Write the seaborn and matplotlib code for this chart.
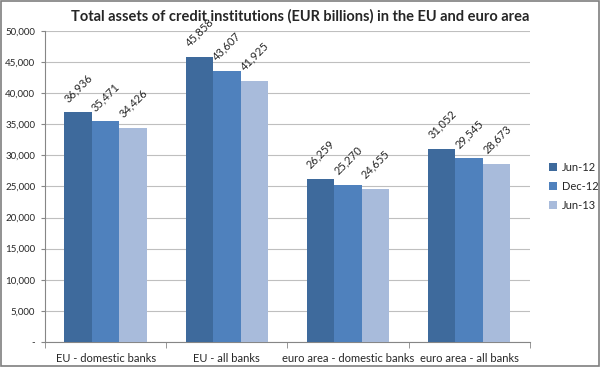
import matplotlib
matplotlib.use("Agg")
import matplotlib.pyplot as plt
import seaborn as sns
import pandas as pd

# Chart data
categories = ["EU - domestic banks", "EU - all banks",
              "euro area - domestic banks", "euro area - all banks"]
periods = ["Jun-12", "Dec-12", "Jun-13"]
jun12 = [36936, 45858, 26259, 31052]
dec12 = [35471, 43607, 25270, 29545]
jun13 = [34426, 41925, 24655, 28673]
yticks = [0, 5000, 10000, 15000, 20000, 25000, 30000, 35000, 40000, 45000, 50000]

PALETTE = ["#3E6A9C", "#4F81BD", "#A8BBDB"]
GRID = "#BFBFBF"


def main():
    df = pd.DataFrame({
        "category": categories * 3,
        "period": [periods[0]] * 4 + [periods[1]] * 4 + [periods[2]] * 4,
        "value": jun12 + dec12 + jun13,
    })

    sns.set_style("white")
    plt.rcParams["font.family"] = ["Lato", "DejaVu Sans"]

    fig = plt.figure(figsize=(6, 3.67), dpi=100)
    ax = fig.add_axes([0.075, 0.068, 0.808, 0.848])

    sns.barplot(data=df, x="category", y="value", hue="period",
                hue_order=periods, order=categories, palette=PALETTE,
                width=0.68, saturation=1, ax=ax, errorbar=None, zorder=3,
                linewidth=0)

    ax.set_ylim(0, 50000)
    ax.set_xlim(-0.5, 3.5)
    ax.set_yticks(yticks)
    ax.set_yticklabels(["-"] + ["{:,}".format(v) for v in yticks[1:]], fontsize=7)
    ax.yaxis.grid(True, color=GRID, linewidth=0.8, zorder=0)
    ax.set_xlabel("")
    ax.set_ylabel("")
    ax.tick_params(axis="x", labelsize=8, length=0, pad=8)
    ax.tick_params(axis="y", length=3, color="#868686", left=True, pad=4)

    # small tick marks at group boundaries
    ax.set_xticks([-0.5, 0.5, 1.5, 2.5, 3.5], minor=True)
    ax.tick_params(axis="x", which="minor", length=4, color="#868686", bottom=True)

    for side in ["top", "right"]:
        ax.spines[side].set_visible(False)
    for side in ["left", "bottom"]:
        ax.spines[side].set_color("#868686")
        ax.spines[side].set_linewidth(0.8)

    # value labels, rotated like the original
    for container in ax.containers:
        for bar in container:
            h = bar.get_height()
            ax.annotate("{:,.0f}".format(h), (bar.get_x() + bar.get_width() / 2, h),
                        xytext=(-6, 6), textcoords="offset points",
                        rotation=45, ha="left", va="bottom", fontsize=8,
                        rotation_mode="anchor")

    ax.legend(title=None, frameon=False, fontsize=8, loc="center left",
              bbox_to_anchor=(1.02, 0.5), handlelength=0.7, handleheight=0.7,
              labelspacing=0.7, handletextpad=0.4)

    fig.suptitle("Total assets of credit institutions (EUR billions) in the EU and euro area",
                 fontsize=10.5, fontweight="bold", y=0.975)

    # gray frame around the whole picture
    fig.patches.append(plt.Rectangle((0.002, 0.003), 0.996, 0.994, transform=fig.transFigure,
                                     fill=False, edgecolor="#7F7F7F", linewidth=1.2))

    fig.savefig("out.png", dpi=100)


if __name__ == "__main__":
    main()
